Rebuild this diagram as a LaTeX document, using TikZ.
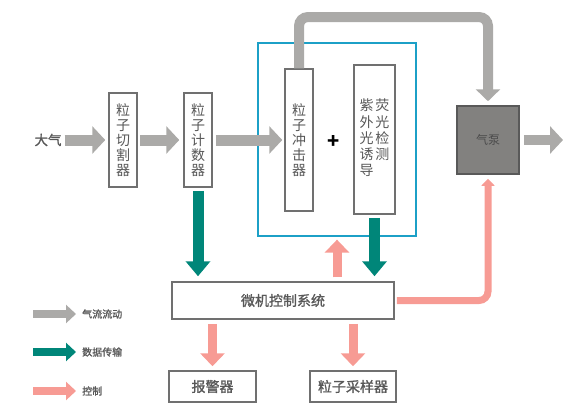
\documentclass[tikz,border=0pt]{standalone}
\usepackage{fontspec}
\setmainfont{Noto Sans CJK SC}
\newfontfamily\heavycjk[FakeBold=1.2]{Noto Sans CJK SC}
\usetikzlibrary{arrows.meta}
\definecolor{flowgray}{RGB}{171,170,168}
\definecolor{datateal}{RGB}{0,134,121}
\definecolor{ctrlpink}{RGB}{247,155,148}
\definecolor{framecyan}{RGB}{28,160,199}
\definecolor{boxline}{RGB}{112,112,112}
\definecolor{txtgray}{RGB}{88,88,88}
\definecolor{pumpgray}{RGB}{130,129,127}

\begin{document}
\begin{tikzpicture}[x=1pt,y=-1pt,
    box/.style={draw=boxline,line width=1.5pt,fill=white,inner sep=0pt,text=txtgray,align=center,font=\fontsize{14}{15}\selectfont},
    flow/.style={draw=flowgray,line width=11pt,-{Triangle[width=27pt,length=13pt]}},
    data/.style={draw=datateal,line width=11pt,-{Triangle[width=24pt,length=15pt]}},
    ctrl/.style={draw=ctrlpink,line width=9pt,-{Triangle[width=24pt,length=13pt]}}]

      \useasboundingbox (0,0) rectangle (582,415);

      \node[draw=framecyan,line width=1.3pt,minimum width=158,minimum height=193] (frame) at (337,139.5) {};

      \node[text=txtgray,inner sep=0pt,font=\heavycjk\fontsize{13.5}{15}\selectfont] (air) at (48,140) {大气};
      \node[box,minimum width=28,minimum height=94] (cut) at (123,140) {粒\\子\\切\\割\\器};
      \node[box,minimum width=28,minimum height=94] (count) at (198,140) {粒\\子\\计\\数\\器};
      \node[box,minimum width=28,minimum height=142] (impact) at (299,140) {粒\\子\\冲\\击\\器};
      \node[font=\bfseries\fontsize{20}{20}\selectfont,inner sep=0pt] (plus) at (334,142) {+};
      \node[box,minimum width=41,minimum height=149] (fluor) at (374.5,139.5)
        {\begin{tabular}{@{}c@{\hspace{2pt}}c@{}}紫&荧\\外&光\\光&检\\诱&测\\导&\end{tabular}};
      \node[box,draw=black!65,fill=pumpgray,text=black!70,minimum width=62,minimum height=68,font=\fontsize{12}{14}\selectfont] (pump) at (488,140) {气泵};
      \node[box,minimum width=222,minimum height=37,font=\heavycjk\fontsize{14}{15}\selectfont] (ctrl) at (283,300.5) {微机控制系统};
      \node[box,minimum width=87,minimum height=31,font=\heavycjk\fontsize{14}{15}\selectfont] (alarm) at (212.5,386.5) {报警器};
      \node[box,minimum width=86,minimum height=31,font=\heavycjk\fontsize{14}{15}\selectfont] (sampler) at (353,386.5) {粒子采样器};

      \coordinate (top) at (299,17);
      \coordinate (out) at (563,140);

      \draw[flow,shorten <=3pt,shorten >=3pt] (air.east) -- (cut.west);
      \draw[flow,shorten <=2pt,shorten >=4pt] (cut.east) -- (count.west);
      \draw[flow,shorten <=3pt,shorten >=2pt] (count.east) -- (impact.west);
      \draw[flow,line width=10pt,rounded corners=9pt,-{Triangle[width=24pt,length=12pt]},shorten >=4pt] (impact.north) -- (top) -| (pump.north);
      \draw[flow,line width=10pt,shorten <=4pt] (pump.east) -- (out);

      \draw[data,shorten <=3pt,shorten >=5pt] (count.south) -- (count.south |- ctrl.north);
      \draw[data,shorten <=3pt,shorten >=5pt] (fluor.south) -- (fluor.south |- ctrl.north);

      \draw[ctrl,shorten <=4pt,shorten >=3pt] (ctrl.north -| frame.south) -- (frame.south);
      \draw[ctrl,line width=7pt,rounded corners=9pt,-{Triangle[width=13pt,length=7pt]},shorten <=2pt,shorten >=4pt] (ctrl.east) -| (pump.south);
      \draw[ctrl,shorten <=4pt,shorten >=4pt] (ctrl.south -| alarm.north) -- (alarm.north);
      \draw[ctrl,shorten <=4pt,shorten >=4pt] (ctrl.south -| sampler.north) -- (sampler.north);

      \foreach \y/\c/\t in {314/flowgray/气流流动,352/datateal/数据传输,391/ctrlpink/控制} {
        \node[anchor=west,inner sep=0pt,text=txtgray,font=\heavycjk\fontsize{10}{12}\selectfont] (leg\y) at (82,\y) {\t};
        \coordinate (legs\y) at (33,\y);
        \draw[draw=\c,line width=8pt,-{Triangle[width=18pt,length=10pt]},shorten >=6pt] (legs\y) -- (leg\y.west);
      }

    \end{tikzpicture}
\end{document}
